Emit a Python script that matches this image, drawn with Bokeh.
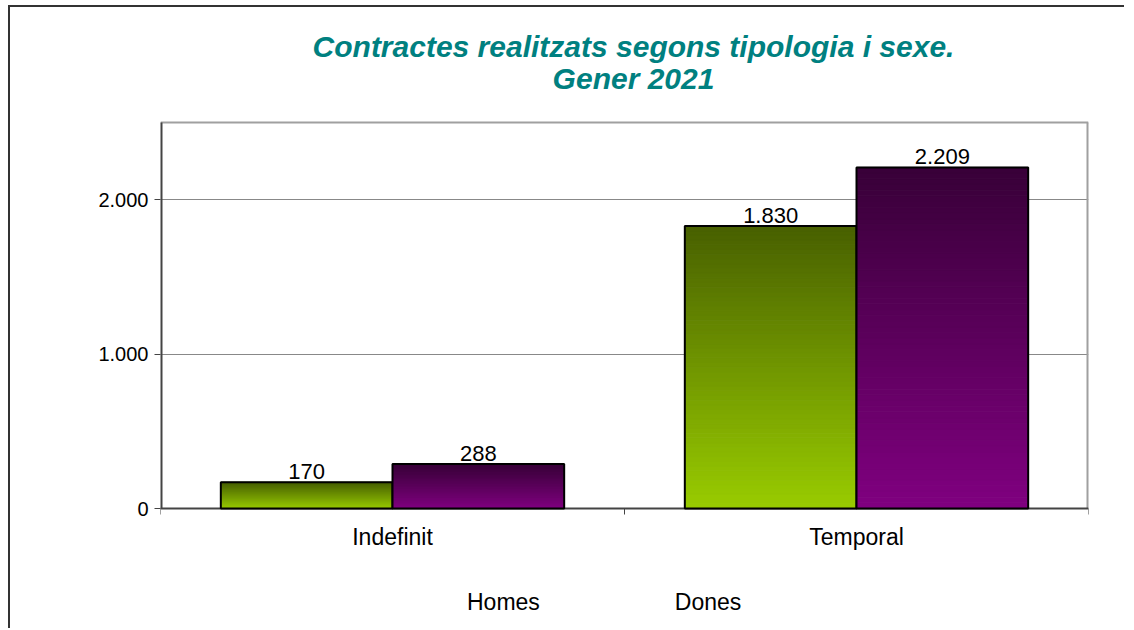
from bokeh.plotting import figure
from bokeh.models import (ColumnDataSource, Range1d, FixedTicker, Legend, LegendItem, Label)
from bokeh.core.properties import value
from bokeh.embed import file_html
from bokeh.resources import INLINE

# ---- data ----
categories = ["Indefinit", "Temporal"]
homes = [170, 1830]
dones = [288, 2209]
series_names = ["Homes", "Dones"]
y_ticks = [0, 1000, 2000]
y_max = 2500
title_lines = ["Contractes realitzats segons tipologia i sexe.", "Gener 2021"]

# ---- styles / layout ----
FONT = "Liberation Sans"
HOMES_BOTTOM, HOMES_TOP = (153, 204, 0), (72, 96, 0)
DONES_BOTTOM, DONES_TOP = (128, 0, 128), (56, 0, 56)
BAR_W = 0.37
OFFSET = 0.185
PLOT_H = 386          # height of the plotting area in px
HEADER_H = 115        # room for the title above the plotting area
FOOTER_H = 120        # room for category labels and legend below it
TICK_PX = 6


def fmt(v):
    return f"{v:,}".replace(",", ".")


def lerp(c0, c1, t):
    return "#%02x%02x%02x" % tuple(int(round(a + (b - a) * t)) for a, b in zip(c0, c1))


upp = y_max / PLOT_H   # data units per pixel
y_top = (PLOT_H + HEADER_H) * upp
y_bottom = -FOOTER_H * upp
n = len(categories)

p = figure(title=None, frame_width=928, frame_height=PLOT_H + HEADER_H + FOOTER_H,
           min_border_left=150, min_border_right=36, min_border_top=0, min_border_bottom=0,
           x_range=Range1d(0, n), y_range=Range1d(y_bottom, y_top),
           x_axis_location=None,
           output_backend="svg", toolbar_location=None)
p.styles = {"border-left": "2px solid #333333", "border-top": "2px solid #333333",
            "margin-left": "8px", "margin-top": "5px"}
p.background_fill_color = "white"
p.border_fill_color = "white"
p.outline_line_color = None

# plotting-area box: grey top/right edges, dark left and bottom axis lines
p.segment(x0=[0], y0=[y_max], x1=[n], y1=[y_max], line_color="#a0a0a0", line_width=2)
p.segment(x0=[n], y0=[0], x1=[n], y1=[y_max], line_color="#a0a0a0", line_width=4)
p.segment(x0=[0], y0=[0], x1=[0], y1=[y_max], line_color="#444444", line_width=4)
p.segment(x0=[0], y0=[0], x1=[n], y1=[0], line_color="#444444", line_width=2)

# title
for txt, dy in [(title_lines[0], 39), (title_lines[1], 71)]:
    p.add_layout(Label(x=473, y=FOOTER_H + PLOT_H + HEADER_H - dy, x_units="screen", y_units="screen",
                       text=txt, text_align="center", text_baseline="alphabetic", text_font=FONT,
                       text_font_style="bold italic", text_font_size="30px",
                       text_color="#008080"))

# grid
for g in p.xgrid:
    g.visible = False
p.ygrid.ticker = FixedTicker(ticks=y_ticks)
p.ygrid.grid_line_color = "#888888"
p.ygrid.grid_line_width = 1

# y axis
ya = p.yaxis[0]
ya.ticker = FixedTicker(ticks=y_ticks)
ya.major_label_overrides = {t: fmt(t) for t in y_ticks}
ya.major_tick_out = TICK_PX
ya.major_tick_in = 0
ya.minor_tick_out = 0
ya.minor_tick_in = 0
ya.axis_line_color = None
ya.major_tick_line_color = "#444444"
ya.major_tick_line_width = 1
ya.major_label_text_font = FONT
ya.major_label_text_font_size = "20px"
ya.major_label_text_color = "black"
ya.major_label_standoff = 6

# category axis: labels at category centres, ticks at category boundaries
centers = [i + 0.5 for i in range(n)]
bounds = [i for i in range(n + 1)]
p.segment(x0=bounds, y0=[0] * len(bounds), x1=bounds, y1=[-TICK_PX * upp] * len(bounds),
          line_color="#444444", line_width=1)
p.text(x=centers, y=[0] * n, text=categories, text_align="center", text_baseline="top",
       y_offset=15, text_font=value(FONT), text_font_size="23px", text_color="black")

# gradient bars built from the data
N = 60
legend_items = []
for vals, off, c_bot, c_top, name in [(homes, -OFFSET, HOMES_BOTTOM, HOMES_TOP, series_names[0]),
                                      (dones, OFFSET, DONES_BOTTOM, DONES_TOP, series_names[1])]:
    xs, bots, tops, cols = [], [], [], []
    for c, v in zip(centers, vals):
        for k in range(N):
            xs.append(c + off)
            bots.append(v * k / N)
            tops.append(v * (k + 1) / N)
            cols.append(lerp(c_bot, c_top, (k + 0.5) / N))
    src = ColumnDataSource(dict(x=xs, bottom=bots, top=tops, color=cols))
    p.vbar(x="x", bottom="bottom", top="top", width=BAR_W, source=src,
           fill_color="color", line_color="color", line_width=1)
    xb = [c + off for c in centers]
    osrc = ColumnDataSource(dict(x=xb, top=vals, label=[fmt(v) for v in vals]))
    p.vbar(x="x", bottom=0, top="top", width=BAR_W, source=osrc,
           fill_alpha=0, line_color="black", line_width=2)
    p.text(x="x", y="top", text="label", source=osrc, text_align="center",
           text_baseline="bottom", y_offset=-3, text_font=value(FONT),
           text_font_size="22px", text_color="black")
    lg = p.vbar(x=[], top=[], width=BAR_W, fill_color=lerp(c_bot, c_top, 0.4),
                line_color="black", line_width=2)
    legend_items.append(LegendItem(label=name, renderers=[lg]))

legend = Legend(items=legend_items, orientation="horizontal", location=(290, 12),
                glyph_width=12, glyph_height=12, spacing=118, label_standoff=5,
                label_height=20, label_text_font=FONT, label_text_font_size="23px",
                label_text_color="black", label_text_baseline="middle",
                border_line_color=None, background_fill_alpha=0, margin=0, padding=0)
p.add_layout(legend, "center")

open("out.html", "w").write(file_html(p, INLINE))
